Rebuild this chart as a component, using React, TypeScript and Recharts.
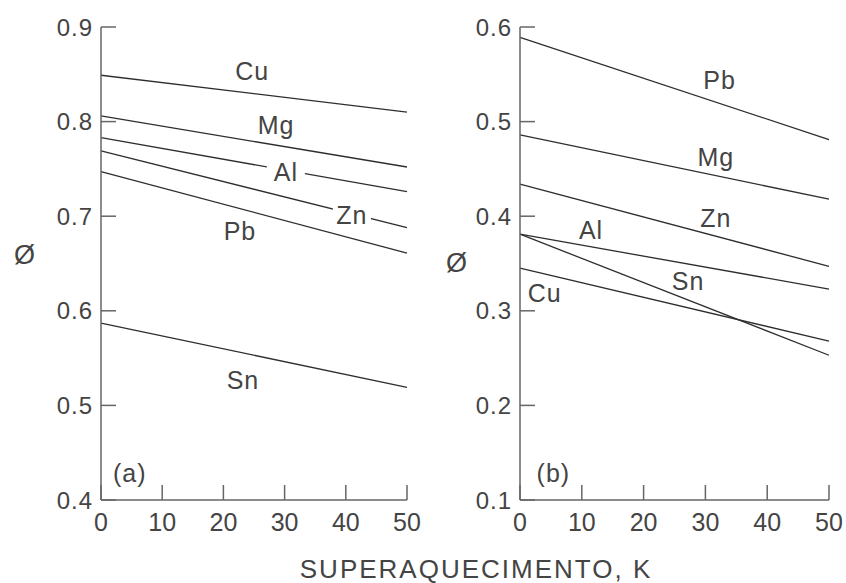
import { LineChart, Line, XAxis, YAxis, ReferenceDot } from 'recharts';

// superheat, K (x values of the points)
const superheat = [0, 50];
const xTicks = [0, 10, 20, 30, 40, 50];

// panel (a) – fraction Ø per metal
const cuA = [0.849, 0.81];
const mgA = [0.806, 0.752];
const alA = [0.783, 0.726];
const znA = [0.769, 0.688];
const pbA = [0.747, 0.661];
const snA = [0.587, 0.519];
const yTicksA = [0.4, 0.5, 0.6, 0.7, 0.8, 0.9];

// panel (b)
const pbB = [0.589, 0.481];
const mgB = [0.486, 0.418];
const znB = [0.434, 0.347];
const alB = [0.381, 0.323];
const snB = [0.381, 0.253];
const cuB = [0.345, 0.268];
const yTicksB = [0.1, 0.2, 0.3, 0.4, 0.5, 0.6];

// curve labels, in data coordinates
const labelsA = [
  { text: 'Cu', x: 24.7, y: 0.853 },
  { text: 'Mg', x: 28.6, y: 0.796 },
  { text: 'Al', x: 30.2, y: 0.747, bg: true },
  { text: 'Zn', x: 41.0, y: 0.701, bg: true },
  { text: 'Pb', x: 22.7, y: 0.684 },
  { text: 'Sn', x: 23.2, y: 0.527 },
  { text: '(a)', x: 4.7, y: 0.429 },
];
const labelsB = [
  { text: 'Pb', x: 32.3, y: 0.544 },
  { text: 'Mg', x: 31.7, y: 0.463 },
  { text: 'Zn', x: 31.7, y: 0.398 },
  { text: 'Al', x: 11.5, y: 0.385 },
  { text: 'Sn', x: 27.2, y: 0.331 },
  { text: 'Cu', x: 4.0, y: 0.319 },
  { text: '(b)', x: 5.4, y: 0.129 },
];

const FONT = '"Liberation Sans", Arial, sans-serif';
const FRAME = '#666';
const INK = '#2e2e2e';
const TEXT = '#444';

function buildRows(series: Record<string, number[]>) {
  return superheat.map((k, i) => {
    const row: Record<string, number> = { k };
    Object.entries(series).forEach(([name, vals]) => {
      row[name] = vals[i];
    });
    return row;
  });
}

const rowsA = buildRows({ Cu: cuA, Mg: mgA, Al: alA, Zn: znA, Pb: pbA, Sn: snA });
const rowsB = buildRows({ Pb: pbB, Mg: mgB, Zn: znB, Al: alB, Sn: snB, Cu: cuB });

function CurveLabel(props: any) {
  const { viewBox, value, bg } = props;
  const cx = viewBox.x + viewBox.width / 2;
  const cy = viewBox.y + viewBox.height / 2;
  const w = value.length * 15 + 8;
  return (
    <g>
      {bg && <rect x={cx - w / 2} y={cy - 12} width={w} height={24} fill="#fff" />}
      <text
        x={cx}
        y={cy}
        textAnchor="middle"
        dominantBaseline="central"
        fill={TEXT}
        fontSize={25}
        fontFamily={FONT}
        letterSpacing={1}
      >
        {value}
      </text>
    </g>
  );
}

interface PanelProps {
  rows: Record<string, number>[];
  names: string[];
  domain: [number, number];
  yTicks: number[];
  labels: { text: string; x: number; y: number; bg?: boolean }[];
  yAxisWidth: number;
  phiOffset: number;
  phiDy: number;
  right: number;
}

function Panel({ rows, names, domain, yTicks, labels, yAxisWidth, phiOffset, phiDy, right }: PanelProps) {
  return (
    <LineChart
      width={423}
      height={583}
      data={rows}
      margin={{ top: 27, right, bottom: 53, left: 5 }}
    >
      <XAxis
        dataKey="k"
        type="number"
        domain={[0, 50]}
        ticks={xTicks}
        interval={0}
        height={30}
        tickSize={-15}
        tickMargin={28}
        stroke={FRAME}
        strokeWidth={1.5}
        tick={{ fill: TEXT, fontSize: 25, fontFamily: FONT }}
      />
      <XAxis
        xAxisId="t"
        orientation="top"
        dataKey="k"
        type="number"
        domain={[0, 50]}
        ticks={xTicks}
        interval={0}
        height={0}
        tickSize={-15}
        stroke={FRAME}
        strokeWidth={1.5}
        tick={false}
      />
      <YAxis
        type="number"
        domain={domain}
        ticks={yTicks}
        interval={0}
        width={yAxisWidth}
        tickSize={-15}
        tickMargin={23}
        stroke={FRAME}
        strokeWidth={1.5}
        tick={{ fill: TEXT, fontSize: 24, fontFamily: FONT, letterSpacing: 1 }}
        tickFormatter={(v: number) => v.toFixed(1)}
        label={{
          value: 'Ø',
          position: 'insideLeft',
          offset: phiOffset,
          dy: phiDy,
          fill: TEXT,
          fontSize: 27,
          fontFamily: FONT,
        }}
      />
      <YAxis
        yAxisId="r"
        orientation="right"
        type="number"
        domain={domain}
        ticks={yTicks}
        interval={0}
        width={0}
        tickSize={-15}
        stroke={FRAME}
        strokeWidth={1.5}
        tick={false}
      />
      {names.map((n) => (
        <Line
          key={n}
          dataKey={n}
          stroke={INK}
          strokeWidth={1.3}
          dot={false}
          activeDot={false}
          isAnimationActive={false}
        />
      ))}
      {labels.map((l) => (
        <ReferenceDot
          key={l.text}
          x={l.x}
          y={l.y}
          r={0}
          fill="none"
          stroke="none"
          label={(p: any) => <CurveLabel {...p} value={l.text} bg={l.bg} />}
        />
      ))}
    </LineChart>
  );
}

export default function App() {
  return (
    <div
      style={{
        position: 'absolute',
        left: 0,
        top: 0,
        width: 846,
        height: 583,
        background: '#fff',
        fontFamily: FONT,
      }}
    >
      <div style={{ position: 'absolute', left: 0, top: 0 }}>
        <Panel
          rows={rowsA}
          names={['Cu', 'Mg', 'Al', 'Zn', 'Pb', 'Sn']}
          domain={[0.4, 0.9]}
          yTicks={yTicksA}
          labels={labelsA}
          yAxisWidth={96}
          phiOffset={9}
          phiDy={-9}
          right={16}
        />
      </div>
      <div style={{ position: 'absolute', left: 423, top: 0 }}>
        <Panel
          rows={rowsB}
          names={['Pb', 'Mg', 'Zn', 'Al', 'Sn', 'Cu']}
          domain={[0.1, 0.6]}
          yTicks={yTicksB}
          labels={labelsB}
          yAxisWidth={92}
          phiOffset={18}
          phiDy={-1}
          right={17}
        />
      </div>
      <div
        style={{
          position: 'absolute',
          left: 276,
          width: 400,
          top: 553,
          textAlign: 'center',
          fontSize: 26,
          letterSpacing: 2,
          color: TEXT,
          lineHeight: '32px',
        }}
      >
        SUPERAQUECIMENTO, K
      </div>
    </div>
  );
}
